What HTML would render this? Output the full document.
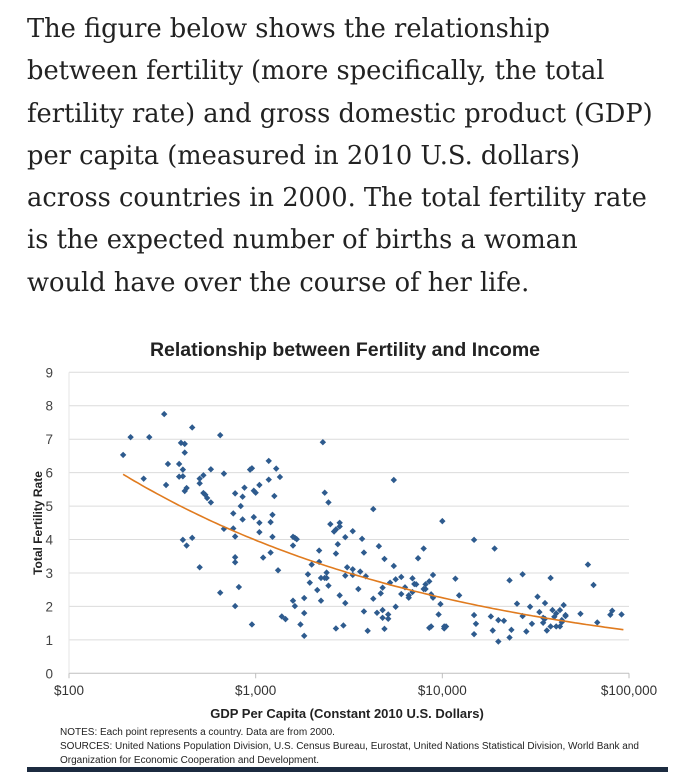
<!DOCTYPE html>
<html><head><meta charset="utf-8">
<style>
html,body{margin:0;padding:0;background:#fff;width:690px;height:772px;overflow:hidden}
.intro{position:absolute;left:27px;top:8px;width:660px;font-family:"DejaVu Serif","Liberation Serif",serif;font-size:25.7px;line-height:42.3px;color:#222;margin:0;white-space:nowrap}
svg{position:absolute;left:0;top:0}
</style></head>
<body>
<p class="intro">The figure below shows the relationship<br>between fertility (more specifically, the total<br>fertility rate) and gross domestic product (GDP)<br>per capita (measured in 2010 U.S. dollars)<br>across countries in 2000. The total fertility rate<br>is the expected number of births a woman<br>would have over the course of her life.</p>
<svg id="chart" width="690" height="772" font-family="Liberation Sans, Arial, sans-serif"></svg>
<script>
const logGdp=[2.29,2.33,2.40,2.43,2.51,2.53,2.52,2.59,2.59,2.60,2.62,2.61,2.61,2.62,2.62,2.63,2.66,2.61,2.63,2.66,2.70,2.70,2.72,2.72,2.73,2.74,2.76,2.76,2.70,2.81,2.83,2.83,2.81,2.88,2.89,2.88,2.89,2.89,2.89,2.89,2.91,2.92,2.93,2.93,2.94,2.97,2.98,2.99,3.00,2.99,2.98,3.02,3.02,3.02,3.04,3.07,3.07,3.11,3.10,3.09,3.08,3.09,3.08,3.12,3.13,3.14,3.16,3.20,3.21,3.22,3.20,3.20,3.21,3.24,3.26,3.26,3.26,3.28,3.29,3.30,3.33,3.34,3.34,3.36,3.37,3.39,3.35,3.37,3.38,3.38,3.39,3.35,
3.40,3.42,3.43,3.45,3.45,3.43,3.44,3.48,3.49,3.48,3.45,3.48,3.43,3.47,3.52,3.57,3.58,3.52,3.56,3.59,3.55,3.52,3.58,3.60,3.66,3.69,3.63,3.74,3.74,3.63,3.65,3.68,3.68,3.69,3.71,3.71,3.75,3.72,3.68,3.67,3.75,3.78,3.78,3.80,3.82,3.82,3.84,3.84,3.85,3.86,3.87,3.90,3.91,3.91,3.90,3.93,3.95,3.94,3.95,3.99,4.00,4.07,4.09,3.98,3.93,3.94,4.01,4.01,4.02,4.17,4.17,4.18,4.17,4.26,4.27,4.28,4.30,4.30,4.33,4.36,4.37,4.36,4.40,4.43,4.43,4.45,4.47,4.48,4.51,4.52,4.54,4.54,4.55,4.55,4.56,4.58,4.59,4.58,4.60,4.61,4.61,4.63,4.63,4.64,4.65,4.66,4.66,4.64,4.74,4.78,4.81,4.83,4.90,4.91,4.96];
const tfr=[6.53,7.06,5.82,7.06,7.75,6.26,5.63,6.26,5.88,6.89,6.86,6.09,5.89,6.60,5.45,5.54,7.35,3.99,3.82,4.05,5.82,5.68,5.92,5.39,5.34,5.24,6.10,5.11,3.17,7.12,5.97,4.32,2.41,4.78,5.38,4.33,4.09,3.47,3.32,2.01,2.58,5.00,5.28,4.60,5.55,6.09,6.13,5.46,5.40,4.67,1.46,5.63,4.50,4.22,3.46,6.35,5.79,6.12,5.30,4.74,4.52,4.08,3.61,3.08,5.87,1.70,1.62,4.08,4.05,4.01,3.82,2.17,2.01,1.46,1.12,1.80,2.25,2.96,2.71,3.25,2.49,3.67,3.33,6.91,5.40,5.11,2.85,2.85,3.01,2.85,2.62,2.17,
4.46,4.24,4.30,4.50,4.39,3.58,3.86,4.07,3.17,2.92,2.33,2.10,1.34,1.43,4.25,4.02,3.61,3.11,3.04,2.90,2.52,2.94,1.85,1.27,3.80,3.42,4.91,5.78,3.21,2.23,1.81,1.89,1.66,1.33,1.76,1.63,2.81,2.71,2.56,2.39,1.99,2.37,2.88,2.57,2.33,2.26,2.84,2.43,2.67,2.66,3.44,3.73,2.66,2.52,2.52,2.75,2.94,2.36,2.26,2.07,4.55,2.83,2.33,1.76,1.36,1.40,1.40,1.34,1.40,3.99,1.74,1.48,1.17,1.70,1.28,3.73,0.95,1.59,1.57,2.78,1.30,1.07,2.08,2.96,1.71,1.25,1.99,1.48,2.29,1.83,1.66,1.51,1.63,2.10,1.28,2.85,1.89,1.40,1.69,1.79,1.40,1.40,1.89,1.53,2.04,1.74,1.71,1.59,1.78,3.25,2.64,1.52,1.75,1.87,1.76];
const yTicks=[0,1,2,3,4,5,6,7,8,9];
const xTicks=[2,3,4,5];
const xTickLabels=["$100","$1,000","$10,000","$100,000"];
const trendCoef=[5.95,-0.246,2.29];
const trendRange=[2.29,4.97];

const NS="http://www.w3.org/2000/svg";
const svg=document.getElementById('chart');
const X0=69,X1=629,Y0=673.3,Y9=372.3;
const xs=l=>X0+(l-2)/3*(X1-X0);
const ys=v=>Y0-v/9*(Y0-Y9);
function mk(tag,attrs,parent){const e=document.createElementNS(NS,tag);for(const k in attrs)e.setAttribute(k,attrs[k]);(parent||svg).appendChild(e);return e;}

const t=mk('text',{x:345,y:356,'text-anchor':'middle','font-size':19.5,'font-weight':'bold',fill:'#222'});


t.textContent='Relationship between Fertility and Income';

yTicks.forEach(v=>{
  const g=mk('line',{x1:X0,x2:X1,y1:ys(v),y2:ys(v),stroke:v===0?'#bfbfbf':'#dcdcdc','stroke-width':1});
  
  
  const l=mk('text',{x:53,y:ys(v)+5,'text-anchor':'end','font-size':13.5,fill:'#444'});
  
  
  l.textContent=v;
});
const ya=mk('line',{x1:X0,x2:X0,y1:Y9,y2:Y0,stroke:'#e6e6e6'});


xTicks.forEach((v,i)=>{
  const tk=mk('line',{x1:xs(v),x2:xs(v),y1:Y0,y2:Y0+5,stroke:'#bfbfbf'});
  
  
  const l=mk('text',{x:xs(v),y:695,'text-anchor':'middle','font-size':13.5,fill:'#333'});
  
  
  l.textContent=xTickLabels[i];
});
const yt=mk('text',{x:0,y:0,transform:'translate(42,523) rotate(-90)','text-anchor':'middle','font-size':12,'font-weight':'bold',fill:'#222'});


yt.textContent='Total Fertility Rate';
const xt=mk('text',{x:347,y:718,'text-anchor':'middle','font-size':13,'font-weight':'bold',fill:'#222'});


xt.textContent='GDP Per Capita (Constant  2010 U.S. Dollars)';

const pts=mk('g',{fill:'#2e5b8e'});


logGdp.forEach((l,i)=>{
  const cx=xs(l),cy=ys(tfr[i]);
  const p=mk('polygon',{points:`${cx},${cy-3.2} ${cx+3.2},${cy} ${cx},${cy+3.2} ${cx-3.2},${cy}`},pts);
  
  
});
let d='';
for(let l=trendRange[0];l<=trendRange[1]+1e-9;l+=0.02){
  const v=trendCoef[0]*Math.pow(10,trendCoef[1]*(l-trendCoef[2]));
  d+=(d?'L':'M')+xs(l).toFixed(1)+','+ys(v).toFixed(1);
}
const tr=mk('path',{d:d,fill:'none',stroke:'#e07b1f','stroke-width':1.6});



const notes=["NOTES: Each point represents a country. Data are from  2000.","SOURCES: United Nations Population Division, U.S. Census Bureau, Eurostat, United Nations Statistical Division, World Bank and","Organization for Economic Cooperation and Development."];
notes.forEach((s,i)=>{
  const n=mk('text',{x:60,y:735+i*14,'font-size':10,fill:'#222'});
  
  
  n.textContent=s;
});
const bar=mk('rect',{x:27,y:767,width:641,height:5,fill:'#1c2b40'});


</script>
</body></html>
